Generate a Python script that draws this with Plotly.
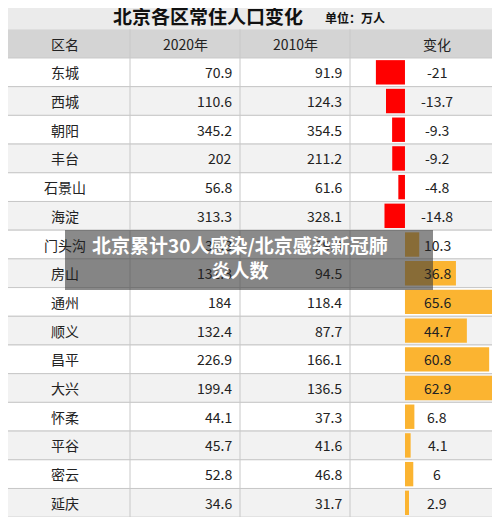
import plotly.graph_objects as go

districts = ["东城","西城","朝阳","丰台","石景山","海淀","门头沟","房山","通州","顺义","昌平","大兴","怀柔","平谷","密云","延庆"]
pop2020 = ["70.9","110.6","345.2","202","56.8","313.3","39.3","131.3","184","132.4","226.9","199.4","44.1","45.7","52.8","34.6"]
pop2010 = ["91.9","124.3","354.5","211.2","61.6","328.1","29.0","94.5","118.4","87.7","166.1","136.5","37.3","41.6","46.8","31.7"]
change = [-21,-13.7,-9.3,-9.2,-4.8,-14.8,10.3,36.8,65.6,44.7,60.8,62.9,6.8,4.1,6,2.9]
headers = ["区名","2020年","2010年","变化"]

n = len(districts)
F = "Noto Sans CJK SC"
OFF = 8  # page body margin compensation (px)
RH = 28.7
fig = go.Figure()
shapes = []
shapes.append(dict(type="rect", xref="x", yref="y", x0=0, x1=520, y0=-3, y1=-1.5, fillcolor="#ebebeb", line_width=0, layer="below"))
shapes.append(dict(type="rect", xref="x", yref="y", x0=0, x1=520, y0=-1.5, y1=-0.5, fillcolor="#d4d4d4", line_width=0, layer="below"))
for i in range(n):
    shapes.append(dict(type="rect", xref="x", yref="y", x0=0, x1=520, y0=i-0.5, y1=i+0.5,
                       fillcolor="#f2f2f2" if i % 2 else "#ffffff", line=dict(color="#c8c8c8", width=1), layer="below"))
for xv in [130, 240, 350]:
    shapes.append(dict(type="line", xref="x", yref="y", x0=xv, x1=xv, y0=-1.5, y1=n-0.5, line=dict(color="#c8c8c8", width=1), layer="below"))

fig.add_trace(go.Bar(y=list(range(n)), x=change, orientation="h", xaxis="x2", yaxis="y",
                     marker=dict(color=["#ff0000" if c < 0 else "#fbb431" for c in change], line_width=0),
                     width=0.85, hoverinfo="skip"))

ann = []
ann.append(dict(x=208, y=-1.97, text="<b>北京各区常住人口变化</b>", font=dict(size=19, color="#111", family=F)))
ann.append(dict(x=355, y=-1.92, text="<b>单位：万人</b>", font=dict(size=12, color="#111", family=F)))
for x, h in zip([65, 185, 295, 437], headers):
    ann.append(dict(x=x, y=-1, text=h, font=dict(size=14, color="#222", family=F)))
for i in range(n):
    ann.append(dict(x=65, y=i, text=districts[i], font=dict(size=14, color="#222", family=F)))
    ann.append(dict(x=234, y=i, text=pop2020[i], xanchor="right", font=dict(size=14, color="#222", family=F)))
    ann.append(dict(x=344, y=i, text=pop2010[i], xanchor="right", font=dict(size=14, color="#222", family=F)))
    ann.append(dict(x=437, y=i, text=f"{change[i]:g}", font=dict(size=14, color="#222", family=F)))
for a in ann:
    a.update(xref="x", yref="y", showarrow=False)
    a.setdefault("xanchor", "center")

shapes.append(dict(type="rect", xref="x", yref="y", x0=65, x1=433, y0=(230-58)/RH-0.5, y1=(290-58)/RH-0.5,
                   fillcolor="rgba(60,60,60,0.6)", line_width=0, layer="above"))
ann.append(dict(xref="x", yref="y", x=240, y=(257-58)/RH-0.5, showarrow=False,
                text="<b>北京累计30人感染/北京感染新冠肺<br>炎人数</b>", align="center",
                font=dict(size=19, color="white", family=F)))

top = -2.52 + OFF / RH
fig.update_layout(width=500, height=517, margin=dict(l=0, r=0, t=0, b=0),
                  plot_bgcolor="rgba(0,0,0,0)", paper_bgcolor="white", showlegend=False,
                  shapes=shapes, annotations=ann,
                  xaxis=dict(range=[OFF, 500 + OFF], domain=[0, 1], visible=False, fixedrange=True),
                  xaxis2=dict(range=[-39.7, 74.4], domain=[0.684, 1.0], anchor="y", visible=False),
                  yaxis=dict(range=[top + 517 / RH, top], visible=False))
fig.write_html("out.html")
